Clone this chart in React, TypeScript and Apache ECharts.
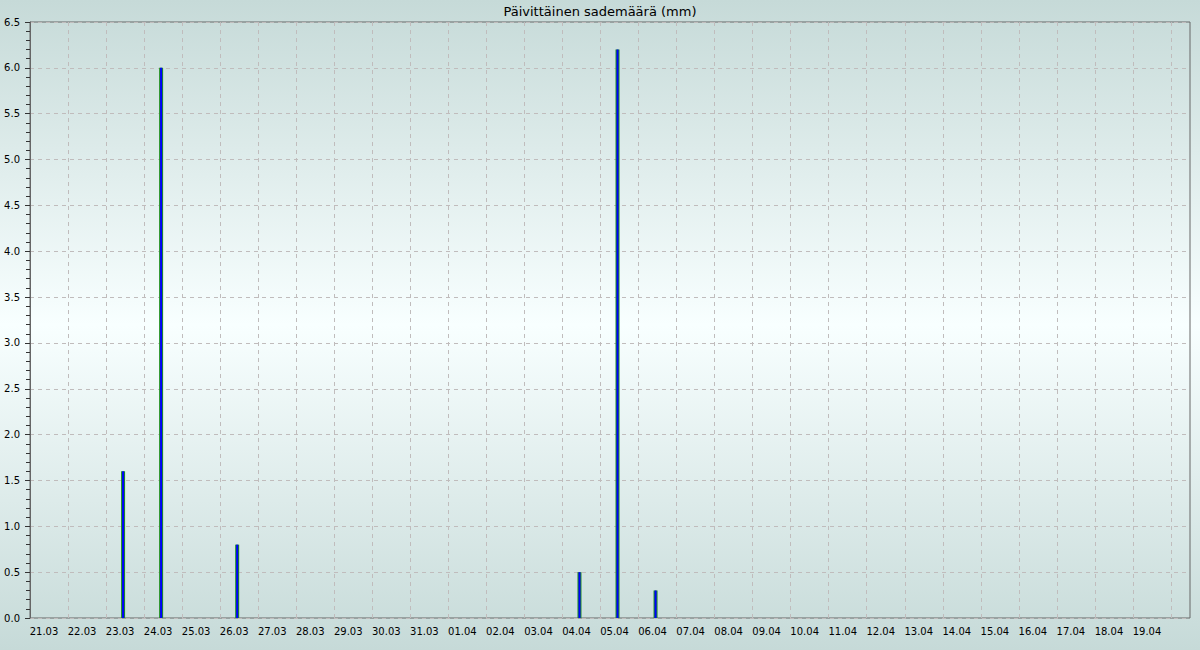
import React, { useEffect, useRef } from "react";
import * as echarts from "echarts";

const TITLE = "Päivittäinen sademäärä (mm)";
const dates = [
  "21.03", "22.03", "23.03", "24.03", "25.03", "26.03", "27.03", "28.03", "29.03", "30.03",
  "31.03", "01.04", "02.04", "03.04", "04.04", "05.04", "06.04", "07.04", "08.04", "09.04",
  "10.04", "11.04", "12.04", "13.04", "14.04", "15.04", "16.04", "17.04", "18.04", "19.04",
];
const rain = [
  0, 0, 1.6, 6.0, 0, 0.8, 0, 0, 0, 0,
  0, 0, 0, 0, 0.5, 6.2, 0.3, 0, 0, 0,
  0, 0, 0, 0, 0, 0, 0, 0, 0, 0,
];
const Y_MIN = 0;
const Y_MAX = 6.5;
const Y_STEP = 0.5;

const FONT = "DejaVu Sans";

export default function App() {
  const ref = useRef<HTMLDivElement>(null);
  useEffect(() => {
    if (!ref.current) return;
    const chart = echarts.init(ref.current, null, { renderer: "svg" });
    const dashed = { color: "#c0bcbc", type: [4, 4], width: 1 };
    chart.setOption({
      animation: false,
      backgroundColor: "transparent",
      textStyle: { fontFamily: FONT },
      title: {
        text: TITLE,
        left: "center",
        top: 0,
        textStyle: { fontFamily: FONT, fontSize: 13, fontWeight: "normal", color: "#000" },
      },
      grid: [
        { left: 30, right: 10, top: 22, bottom: 32, show: true, borderColor: "#666", borderWidth: 1, backgroundColor: "transparent" },
        { left: 30, width: 1141, top: 22, bottom: 32 },
        { left: 27.5, width: 1141, top: 22, bottom: 32 },
      ],
      xAxis: [
        { type: "value", gridIndex: 0, min: 0, max: 1, show: false },
        {
          type: "category",
          gridIndex: 1,
          data: dates,
          boundaryGap: true,
          axisLine: { show: false },
          axisTick: { show: false },
          axisLabel: { show: false },
          splitLine: { show: true, interval: 0, lineStyle: dashed },
        },
        {
          type: "category",
          gridIndex: 2,
          data: dates,
          boundaryGap: true,
          axisLine: { show: false },
          axisTick: { show: false },
          splitLine: { show: false },
          axisLabel: {
            interval: 0,
            fontSize: 10,
            color: "#000",
            fontFamily: FONT,
            margin: 8,
            padding: [0, 5, 0, 0],
          },
        },
      ],
      yAxis: [
        {
          type: "value",
          gridIndex: 0,
          min: Y_MIN,
          max: Y_MAX,
          interval: Y_STEP,
          axisLine: { show: true, lineStyle: { color: "#666" } },
          axisTick: { show: true, length: 5, lineStyle: { color: "#333" } },
          minorTick: { show: true, splitNumber: 5, length: 4, lineStyle: { color: "#333" } },
          splitLine: { show: true, lineStyle: dashed },
          axisLabel: {
            fontSize: 10,
            color: "#000",
            fontFamily: FONT,
            margin: 10,
            formatter: (v: number) => v.toFixed(1),
          },
        },
        { type: "value", gridIndex: 1, min: Y_MIN, max: Y_MAX, show: false },
        { type: "value", gridIndex: 2, min: Y_MIN, max: Y_MAX, show: false },
      ],
      series: [
        {
          type: "bar",
          xAxisIndex: 2,
          yAxisIndex: 2,
          data: rain,
          barWidth: 4,
          itemStyle: { color: "#1f8f1f" },
          z: 5,
        },
        {
          type: "bar",
          xAxisIndex: 2,
          yAxisIndex: 2,
          data: rain,
          barWidth: 2,
          barGap: "-75%",
          itemStyle: { color: "#0000ff" },
          z: 6,
        },
      ],
    });
    return () => chart.dispose();
  }, []);
  return (
    <div
      ref={ref}
      style={{
        position: "fixed",
        left: 0,
        top: 0,
        width: 1200,
        height: 650,
        background: "linear-gradient(to bottom, #c6dad8 0%, #f8ffff 50%, #c6dad8 100%)",
      }}
    />
  );
}
